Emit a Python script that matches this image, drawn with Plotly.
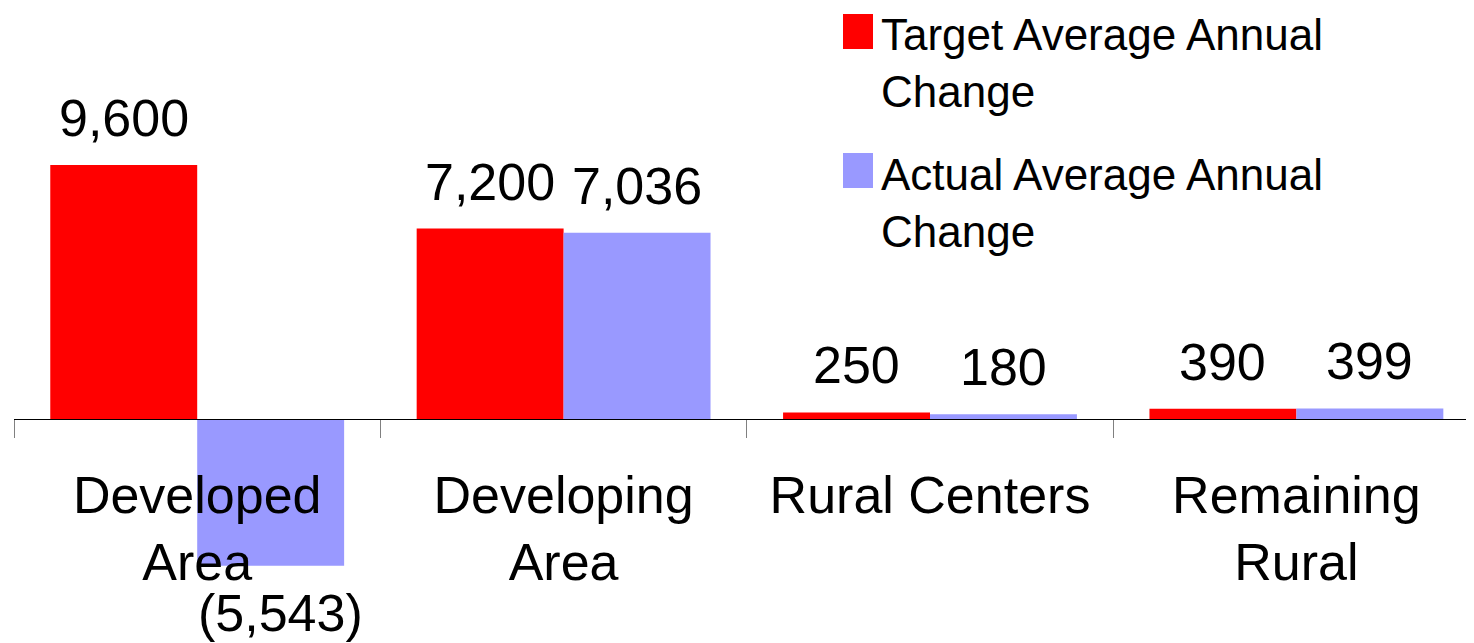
import plotly.graph_objects as go

categories = ["Developed<br>Area", "Developing<br>Area", "Rural Centers", "Remaining<br>Rural"]
target_values = [9600, 7200, 250, 390]
actual_values = [-5543, 7036, 180, 399]
series_names = ["Target Average Annual<br>Change", "Actual Average Annual<br>Change"]
series_colors = ["#FF0000", "#9999FF"]

# page has a default 8px body margin; figure geometry is in figure pixels
OFF = 8
W, H = 1474 - OFF, 643 - OFF
ML = 14 - OFF
PX_PER_UNIT = 254 / 9600.0
ZERO_Y = 419 - OFF
CAT_PX = 366.4
BARGAP = 0.198

plot_w = W - ML
x_span = plot_w / CAT_PX
y_max = ZERO_Y / PX_PER_UNIT
y_min = -(H - ZERO_Y) / PX_PER_UNIT
zero_pos = (0 - y_min) / (y_max - y_min)
bar_px = CAT_PX * (1 - BARGAP) / 2

MAIN_FONT = "Liberation Sans, Arial, sans-serif"
MAIN_SIZE = 52
LEG_SIZE = 44


def fmt(v):
    return f"({abs(v):,})" if v < 0 else f"{v:,}"


fig = go.Figure()
for vals, name, col in zip([target_values, actual_values], series_names, series_colors):
    fig.add_trace(go.Bar(x=categories, y=vals, name=name, marker=dict(color=col, line=dict(width=0)),
                         showlegend=False))

annotations = []
for si, vals in enumerate([target_values, actual_values]):
    shift = (-1 if si == 0 else 1) * bar_px / 2
    for c, v in zip(categories, vals):
        extra = 10 if v < 0 else 0
        annotations.append(dict(
            x=c, y=v, xref="x", yref="y", text=fmt(v), showarrow=False,
            xshift=shift + extra, yshift=16 if v >= 0 else -16,
            yanchor="bottom" if v >= 0 else "top", xanchor="center",
            font=dict(family=MAIN_FONT, size=MAIN_SIZE, color="black")))

# legend (drawn manually for large swatches), positions in page pixels
leg_cap_tops = [17, 157]
sw_tops = [14, 153]
shapes = []
cap_off = (0.905 - 0.716) * LEG_SIZE
for name, col, ct, st in zip(series_names, series_colors, leg_cap_tops, sw_tops):
    shapes.append(dict(type="rect", xref="paper", yref="paper",
                       x0=(843 - OFF - ML) / plot_w, x1=(873 - OFF - ML) / plot_w,
                       y0=1 - (st - OFF + 35) / H, y1=1 - (st - OFF) / H,
                       fillcolor=col, line=dict(width=0)))
    annotations.append(dict(x=(880 - OFF - ML) / plot_w, y=min(1.0, 1 - (ct - OFF - cap_off) / H),
                            xref="paper", yref="paper", borderpad=0,
                            text=name, showarrow=False, xanchor="left", yanchor="top", align="left",
                            font=dict(family=MAIN_FONT, size=LEG_SIZE, color="black")))

fig.update_layout(
    width=W, height=H,
    margin=dict(l=ML, r=0, t=0, b=0),
    paper_bgcolor="white", plot_bgcolor="white",
    barmode="group", bargap=BARGAP, bargroupgap=0,
    annotations=annotations, shapes=shapes,
    showlegend=False,
    xaxis=dict(type="category", range=[-0.5, -0.5 + x_span], anchor="free", position=zero_pos,
               showline=True, linecolor="black", linewidth=1.2,
               ticks="outside", tickson="boundaries", ticklen=18, tickcolor="#808080", tickwidth=1,
               ticklabelstandoff=30,
               tickfont=dict(family=MAIN_FONT, size=MAIN_SIZE, color="black"),
               showgrid=False, zeroline=False, automargin=False, fixedrange=True),
    yaxis=dict(range=[y_min, y_max], visible=False, showgrid=False, zeroline=False,
               automargin=False, fixedrange=True),
)

fig.write_html("out.html")
